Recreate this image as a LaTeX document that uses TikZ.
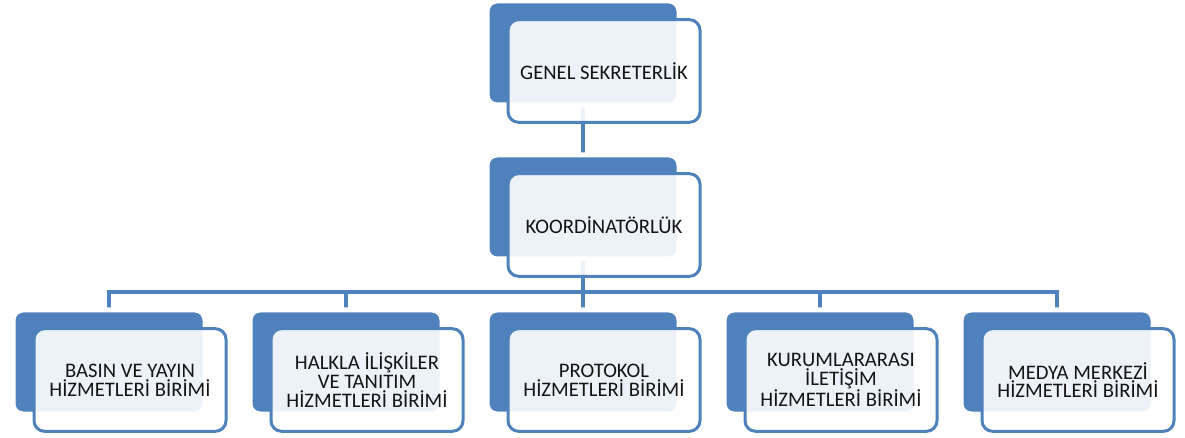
\documentclass[tikz,border=0pt]{standalone}
\usepackage{fontspec}
\setmainfont{Carlito}
\usetikzlibrary{shadows,backgrounds}
\definecolor{unitblue}{RGB}{79, 129, 189}
\definecolor{textcolor}{RGB}{20, 20, 20}

\begin{document}
\begin{tikzpicture}[x=0.75pt, y=-0.75pt,
                back/.style={rectangle, rounded corners=7.5pt, fill=unitblue, draw=white, line width=3.75pt,
                    minimum width=144pt, minimum height=78pt,
                    drop shadow={opacity=0.22, shadow xshift=1.5pt, shadow yshift=-1.5pt}},
                front/.style={rectangle, rounded corners=8pt, fill=white, fill opacity=0.9, text opacity=1,
                    draw=unitblue, line width=2.25pt, minimum width=144pt, minimum height=77pt,
                    align=center, text=textcolor, font=\fontsize{15.5}{14}\selectfont},
                conn/.style={draw=unitblue, line width=3pt}]

                \useasboundingbox (0,0) rectangle (1185,438);

                % Genel sekreterlik
                \node[back] (genb) at (583,53) {};
                \node[front] (gen) at (604,71) {GENEL SEKRETERLİK};

                % Koordinatorluk
                \node[back] (koorb) at (583,207) {};
                \node[front] (koor) at (604,225) {KOORDİNATÖRLÜK};

                % Units
                \node[back] (u1b) at (109,362) {};
                \node[front] (u1) at (130,380) {BASIN VE YAYIN\\HİZMETLERİ BİRİMİ};
                \node[back] (u2b) at (346,362) {};
                \node[front] (u2) at (367,380) {HALKLA İLİŞKİLER\\VE TANITIM\\HİZMETLERİ BİRİMİ};
                \node[back] (u3b) at (583,362) {};
                \node[front] (u3) at (604,380) {PROTOKOL\\HİZMETLERİ BİRİMİ};
                \node[back] (u4b) at (820,362) {};
                \node[front] (u4) at (841,380) {KURUMLARARASI\\İLETİŞİM\\HİZMETLERİ BİRİMİ};
                \node[back] (u5b) at (1057,362) {};
                \node[front] (u5) at (1078,380) {MEDYA MERKEZİ\\HİZMETLERİ BİRİMİ};

                \coordinate (bus) at (583,292);

                % Connectors
                \begin{scope}[on background layer]
                \draw[conn] (genb.center) -- (koorb.center);
                \draw[conn] (koorb.center) -- (bus);
                \draw[conn] (u1b.center) |- (bus) -| (u5b.center);
                \foreach \i in {2,3,4}
                    \draw[conn] (bus -| u\i b.center) -- (u\i b.center);
                \end{scope}

            \end{tikzpicture}
\end{document}
